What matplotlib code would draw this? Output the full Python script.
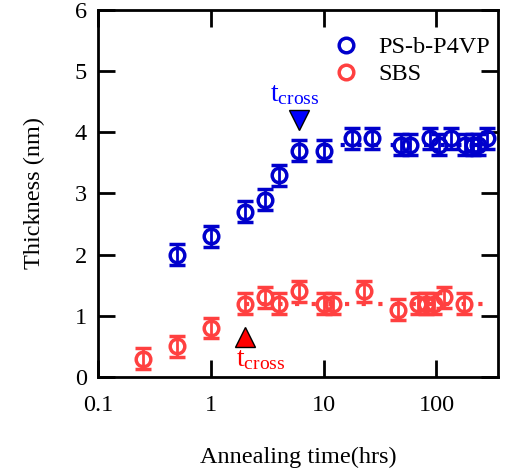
import matplotlib
matplotlib.use("Agg")
import matplotlib.pyplot as plt
from matplotlib.lines import Line2D

plt.rcParams['font.family'] = ['Liberation Serif', 'DejaVu Serif']
plt.rcParams['mathtext.fontset'] = 'custom'
plt.rcParams['mathtext.rm'] = 'Liberation Serif'

# PS-b-P4VP (blue)
t_ps = [0.5, 1, 2, 3, 4, 6, 10, 18, 27, 48, 58, 88, 105, 135, 180, 210, 235, 280]
h_ps = [2.0, 2.3, 2.7, 2.9, 3.3, 3.7, 3.7, 3.9, 3.9, 3.8, 3.8, 3.9, 3.8, 3.9, 3.8, 3.8, 3.8, 3.9]
# SBS (red)
t_sbs = [0.25, 0.5, 1, 2, 3, 4, 6, 10, 12, 23, 46, 68, 81, 95, 117, 175]
h_sbs = [0.3, 0.5, 0.8, 1.2, 1.3, 1.2, 1.4, 1.2, 1.2, 1.4, 1.1, 1.2, 1.2, 1.2, 1.3, 1.2]
err = 0.17

plateau_ps = 3.8
plateau_sbs = 1.2
tcross_ps = 6
tcross_sbs = 2

blue = '#0000CC'
red = '#FF4040'

fig = plt.figure(figsize=(5.08, 4.73), dpi=100)
ax = fig.add_axes([0.193, 0.203, 0.787, 0.776])

ax.plot([10, 300], [plateau_ps, plateau_ps], color=blue, lw=3, ls=(0, (1, 3)), zorder=1)
ax.plot([2, 300], [plateau_sbs, plateau_sbs], color=red, lw=3, ls=(0, (1, 3)), zorder=1)

ax.errorbar(t_ps, h_ps, yerr=err, fmt='o', ms=10.5, mfc='none', mec=blue, mew=2.5,
            ecolor=blue, elinewidth=2, capsize=6, capthick=2, zorder=3)
ax.errorbar(t_sbs, h_sbs, yerr=err, fmt='o', ms=10.5, mfc='none', mec=red, mew=2.5,
            ecolor=red, elinewidth=2, capsize=6, capthick=2, zorder=3)

ax.plot([tcross_ps], [4.2], marker='v', ms=15, color='blue', mec='black', mew=1, ls='none')
ax.plot([tcross_sbs], [0.65], marker='^', ms=15, color='red', mec='black', mew=1, ls='none')
ax.text(tcross_ps * 0.92, 4.62, r'$\mathregular{t_{cross}}$', color='blue', fontsize=20,
        ha='center', va='center')
ax.text(tcross_sbs * 1.38, 0.28, r'$\mathregular{t_{cross}}$', color='red', fontsize=20,
        ha='center', va='center')

ax.set_xscale('log')
ax.set_xlim(0.1, 350)
ax.set_ylim(0, 6)
ax.set_xticks([0.1, 1, 10, 100])
ax.set_xticklabels(['0.1', '1', '10', '100'])
ax.set_yticks([0, 1, 2, 3, 4, 5, 6])
ax.xaxis.set_minor_locator(matplotlib.ticker.NullLocator())
ax.tick_params(which='major', direction='in', length=12, width=2, top=True, right=True,
               labelsize=17.5)
ax.tick_params(axis='x', pad=13)
ax.tick_params(axis='y', pad=8)
for s in ax.spines.values():
    s.set_linewidth(2)

ax.set_xlabel('Annealing time(hrs)', fontsize=17.5, labelpad=22)
ax.set_ylabel('Thickness (nm)', fontsize=17.5, labelpad=21)

handles = [Line2D([], [], marker='o', ls='none', ms=10.5, mfc='none', mec=blue, mew=2.5),
           Line2D([], [], marker='o', ls='none', ms=10.5, mfc='none', mec=red, mew=2.5)]
ax.legend(handles, ['PS-b-P4VP', 'SBS'], loc='upper left', fontsize=17.5, frameon=False,
          bbox_to_anchor=(0.55, 0.955), borderaxespad=0, labelspacing=0.2,
          handletextpad=0.6, handlelength=1.5)

fig.savefig('out.png', dpi=100)
